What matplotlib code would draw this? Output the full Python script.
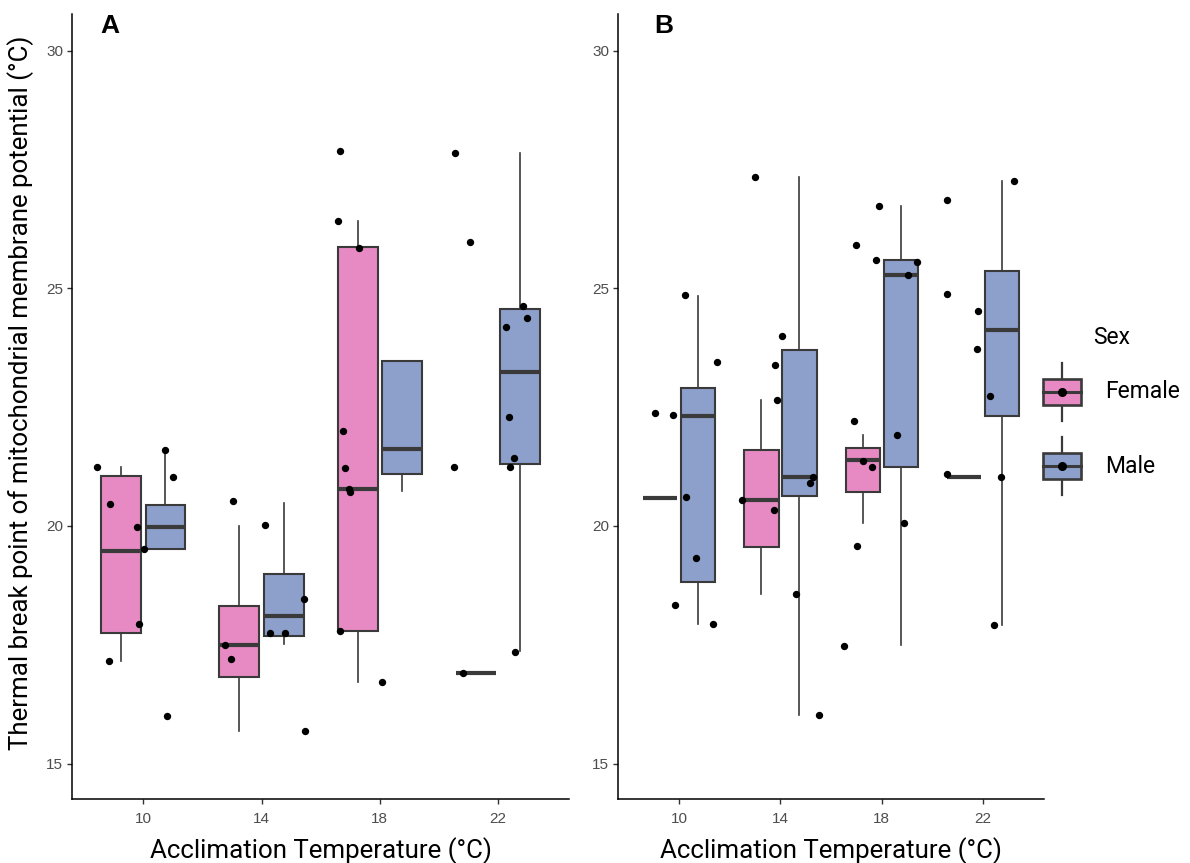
import numpy as np
import matplotlib
matplotlib.use("Agg")
import matplotlib.pyplot as plt
from matplotlib.patches import Patch, Rectangle
from matplotlib.lines import Line2D
from matplotlib.legend_handler import HandlerBase

# -------------------------------
# Data
# -------------------------------
temps = ["10", "14", "18", "22"]
sexes = ["Female", "Male"]
sex_colors = ["#E78AC3", "#8DA0CB"]

# box stats, order: 10F, 10M, 14F, 14M, 18F, 18M, 22F, 22M
a_whislo = [17.16, 19.51, 15.69, 17.51, 16.72, 20.74, 16.90, 17.36]
a_q1     = [17.74, 19.51, 16.83, 17.68, 17.80, 21.09, 16.90, 21.30]
a_med    = [19.48, 19.98, 17.49, 18.10, 20.78, 21.62, 16.90, 23.24]
a_q3     = [21.06, 20.45, 18.31, 18.99, 25.86, 23.48, 16.90, 24.56]
a_whishi = [21.25, 21.60, 20.00, 20.49, 26.41, 23.48, 16.90, 27.84]

b_whislo = [20.58, 17.93, 18.57, 16.03, 20.07, 17.49, 21.04, 17.91]
b_q1     = [20.58, 18.82, 19.55, 20.62, 20.72, 21.25, 21.04, 22.32]
b_med    = [20.58, 22.32, 20.54, 21.04, 21.38, 25.27, 21.04, 24.12]
b_q3     = [20.58, 22.91, 21.60, 23.70, 21.65, 25.60, 21.04, 25.36]
b_whishi = [20.58, 24.84, 22.64, 27.34, 21.91, 26.73, 21.04, 27.25]

# jittered raw points: temperature group, horizontal jitter, value
a_pt_grp = [0]*9 + [1]*8 + [2]*9 + [3]*11
a_pt_dx = [-0.389, -0.285, -0.056, 0.008, -0.039, -0.293, 0.254, 0.203, 0.186,
           -0.245, -0.307, -0.259, 0.031, 0.355, 0.073, 0.195, 0.364,
           -0.333, -0.352, -0.178, -0.310, -0.293, -0.257, -0.248, -0.333, 0.017,
           -0.367, -0.234, 0.211, 0.245, 0.065, 0.096, 0.138, 0.104, -0.372, 0.146, -0.293]
a_pt_y = [21.25, 20.46, 19.98, 19.51, 17.93, 17.16, 21.03, 16.01, 21.60,
          20.53, 17.50, 17.21, 20.02, 18.47, 17.75, 17.75, 15.68,
          27.89, 26.42, 25.85, 22.00, 21.22, 20.78, 20.72, 17.80, 16.72,
          27.85, 25.97, 24.62, 24.38, 24.18, 22.29, 21.44, 21.25, 21.24, 17.35, 16.90]

b_pt_grp = [0]*8 + [1]*10 + [2]*12 + [3]*9
b_pt_dx = [0.059, 0.378, -0.233, -0.056, 0.069, 0.171, -0.036, 0.335,
           -0.250, 0.016, -0.053, -0.030, -0.378, -0.059, 0.319, 0.289, 0.151, 0.384,
           -0.023, -0.250, -0.053, 0.345, 0.263, -0.276, 0.148, -0.181, -0.099, 0.220, -0.240, -0.371,
           -0.361, -0.352, -0.053, -0.059, 0.072, 0.306, -0.361, 0.178, 0.102]
b_pt_y = [24.85, 23.45, 22.37, 22.33, 20.60, 19.33, 18.33, 17.93,
          27.35, 24.00, 23.39, 22.65, 20.54, 20.34, 21.04, 20.90, 18.56, 16.02,
          26.74, 25.91, 25.60, 25.55, 25.27, 22.20, 21.92, 21.37, 21.25, 20.06, 19.57, 17.48,
          26.86, 24.87, 24.52, 23.73, 22.73, 27.26, 21.09, 21.02, 17.92]

edge = "#3a3a3a"
tick_grey = "#4d4d4d"


def draw_panel(ax, whislo, q1, med, q3, whishi, pt_grp, pt_dx, pt_y):
    stats, pos = [], []
    for i in range(len(temps)):
        for j in range(len(sexes)):
            k = i * 2 + j
            stats.append(dict(whislo=whislo[k], q1=q1[k], med=med[k], q3=q3[k],
                              whishi=whishi[k], fliers=[]))
            pos.append(i + (j - 0.5) * 0.375)
    bp = ax.bxp(stats, positions=pos, widths=0.3375, patch_artist=True,
                showcaps=False, showfliers=False,
                boxprops=dict(edgecolor=edge, linewidth=1.5),
                whiskerprops=dict(color=edge, linewidth=1.2),
                medianprops=dict(color=edge, linewidth=3, solid_capstyle="butt"))
    for k, patch in enumerate(bp["boxes"]):
        patch.set_facecolor(sex_colors[k % 2])
    ax.scatter(np.array(pt_grp) + np.array(pt_dx), pt_y, s=28, color="black",
               zorder=3, linewidths=0)

    ax.set_xlim(-0.6, len(temps) - 0.4)
    ax.set_ylim(14.25, 30.77)
    ax.set_xticks(range(len(temps)))
    ax.set_xticklabels(temps)
    ax.set_yticks([15, 20, 25, 30])
    for s in ["top", "right"]:
        ax.spines[s].set_visible(False)
    for s in ["left", "bottom"]:
        ax.spines[s].set_linewidth(1.1)
        ax.spines[s].set_color("black")
    ax.tick_params(length=3.6, width=1.0, color="#333333", labelcolor=tick_grey,
                   labelsize=11)
    ax.tick_params(axis="x", pad=5.5)
    ax.tick_params(axis="y", pad=3)
    for lab in ax.get_xticklabels() + ax.get_yticklabels():
        lab.set_fontfamily("Liberation Sans")
    ax.set_xlabel("Acclimation Temperature (°C)", fontsize=18.6, family="Roboto",
                  labelpad=8)


class BoxKey(HandlerBase):
    def create_artists(self, legend, orig_handle, xdescent, ydescent, width,
                       height, fontsize, trans):
        x0 = -xdescent
        cx = x0 + width / 2
        cy = -ydescent + height / 2
        wh = 1.265 * fontsize
        bh = 1.13 * fontsize
        whisk = Line2D([cx, cx], [cy - wh, cy + wh], color=edge, lw=1.6,
                       transform=trans)
        box = Rectangle((x0, cy - bh / 2), width, bh,
                        facecolor=orig_handle.get_facecolor(), edgecolor=edge,
                        lw=1.9, transform=trans)
        medl = Line2D([x0, x0 + width], [cy, cy], color=edge, lw=2.2,
                      transform=trans)
        dot = Line2D([cx], [cy], marker="o", ms=5.5, color="black",
                     transform=trans)
        return [whisk, box, medl, dot]


fig = plt.figure(figsize=(11.9, 8.63), dpi=100)
ax_a = fig.add_axes([0.0608, 0.0738, 0.4173, 0.91])
ax_b = fig.add_axes([0.5195, 0.0738, 0.3578, 0.91])

draw_panel(ax_a, a_whislo, a_q1, a_med, a_q3, a_whishi, a_pt_grp, a_pt_dx, a_pt_y)
draw_panel(ax_b, b_whislo, b_q1, b_med, b_q3, b_whishi, b_pt_grp, b_pt_dx, b_pt_y)

ax_a.set_ylabel("Thermal break point of mitochondrial membrane potential (°C)",
                fontsize=18.6, family="Roboto")
ax_a.yaxis.set_label_coords(-0.078, 0.518)

fig.text(100 / 1190, 1 - 33 / 863, "A", fontsize=19, fontweight="bold",
         family="Liberation Sans", va="baseline")
fig.text(654 / 1190, 1 - 33 / 863, "B", fontsize=19, fontweight="bold",
         family="Liberation Sans", va="baseline")

handles = [Patch(facecolor=c) for c in sex_colors]
leg = fig.legend(handles, sexes, title="Sex", handler_map={Patch: BoxKey()},
                 loc="upper left", bbox_to_anchor=(1043 / 1190, 1 - 326 / 863),
                 frameon=False, borderpad=0, borderaxespad=0,
                 handlelength=1.65, handleheight=3.85, handletextpad=1.05,
                 labelspacing=0.5,
                 prop=dict(family="Roboto", size=16.5),
                 title_fontproperties=dict(family="Roboto", size=16.5))

fig.savefig("out.png", dpi=100)
